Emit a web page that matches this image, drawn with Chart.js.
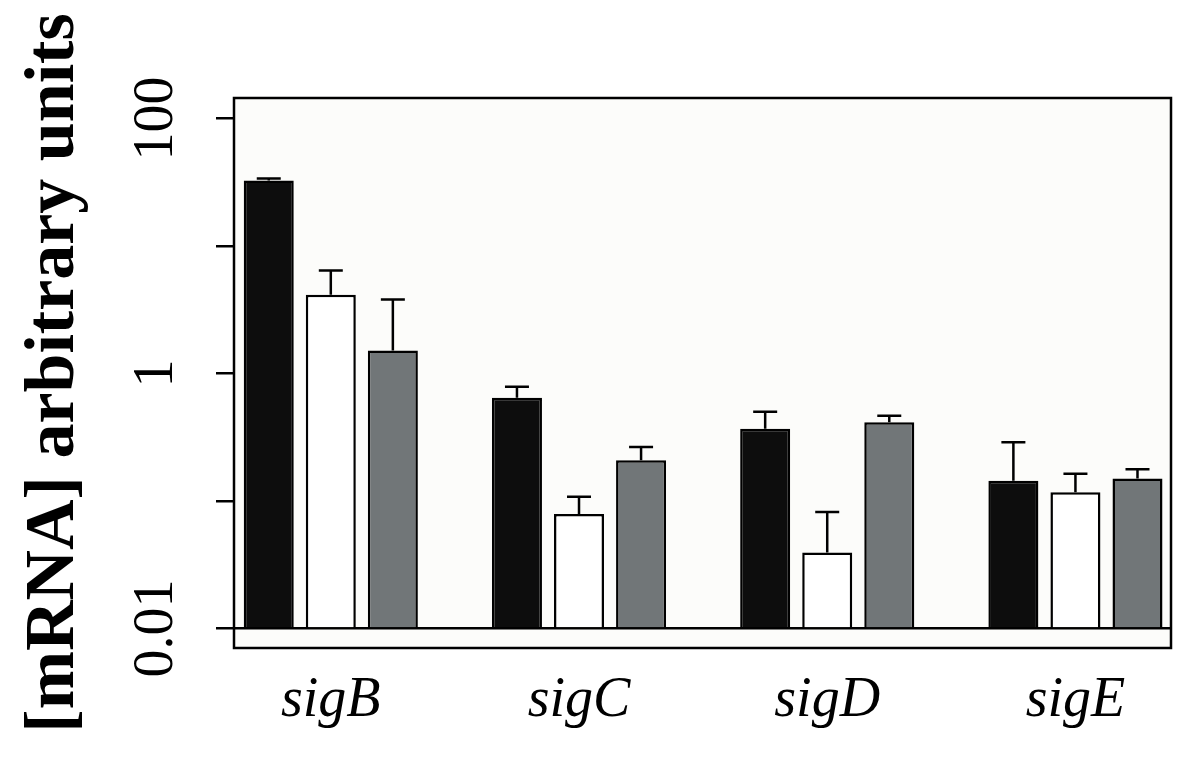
<!DOCTYPE html>
<html>
<head>
<meta charset="utf-8">
<script src="https://cdn.jsdelivr.net/npm/chart.js@4.4.1/dist/chart.umd.min.js"></script>
<style>
  html, body { margin: 0; padding: 0; background: #fff; }
  #wrap { width: 1200px; height: 777px; }
</style>
</head>
<body>
<div id="wrap"><canvas id="myChart" width="1200" height="777"></canvas></div>
<script>
// genes on the x axis
const genes = ['sigB', 'sigC', 'sigD', 'sigE'];
// y ticks (log) and which ones get a label
const yTicks = [0.01, 0.1, 1, 10, 100];
const yTickLabels = ['0.01', '', '1', '', '100'];

// bar heights
const blackValues = [32.6, 0.645, 0.368, 0.144];
const whiteValues = [4.14, 0.0789, 0.0394, 0.117];
const grayValues = [1.51, 0.208, 0.413, 0.150];
// top of the error bars
const blackErr = [33.8, 0.787, 0.501, 0.288];
const whiteErr = [6.42, 0.108, 0.0818, 0.163];
const grayErr = [3.80, 0.265, 0.466, 0.177];

const serif = "'Liberation Serif', 'DejaVu Serif', serif";

function points(values) {
    return values.map((v, i) => ({ x: i, y: v }));
}

// fill plot area, draw frame
const frame = {
    id: 'frame',
    beforeDraw(chart) {
        const a = chart.chartArea;
        const ctx = chart.ctx;
        ctx.save();
        ctx.fillStyle = '#fcfcfa';
        ctx.fillRect(a.left, a.top, a.right - a.left, a.bottom - a.top);
        ctx.restore();
    },
    afterDraw(chart) {
        const a = chart.chartArea;
        const ctx = chart.ctx;
        ctx.save();
        ctx.strokeStyle = '#000';
        ctx.lineWidth = 2.5;
        ctx.strokeRect(a.left, a.top, a.right - a.left, a.bottom - a.top);
        ctx.restore();
    }
};

// one-sided error bars with a cap
const errorBars = {
    id: 'errorBars',
    afterDatasetsDraw(chart) {
        const ctx = chart.ctx;
        const yScale = chart.scales.y;
        ctx.save();
        ctx.strokeStyle = '#000';
        ctx.lineWidth = 2.5;
        chart.data.datasets.forEach((ds, di) => {
            const meta = chart.getDatasetMeta(di);
            meta.data.forEach((bar, i) => {
                const top = yScale.getPixelForValue(ds.errors[i]);
                ctx.beginPath();
                ctx.moveTo(bar.x, bar.y);
                ctx.lineTo(bar.x, top);
                ctx.moveTo(bar.x - 12, top);
                ctx.lineTo(bar.x + 12, top);
                ctx.stroke();
            });
        });
        ctx.restore();
    }
};

const ctx = document.getElementById('myChart').getContext('2d');
const chart = new Chart(ctx, {
    type: 'bar',
    data: {
        datasets: [
            { label: 'black', data: points(blackValues), errors: blackErr, backgroundColor: '#0d0d0d' },
            { label: 'white', data: points(whiteValues), errors: whiteErr, backgroundColor: '#ffffff' },
            { label: 'gray', data: points(grayValues), errors: grayErr, backgroundColor: '#717678' }
        ]
    },
    options: {
        responsive: false,
        animation: false,
        base: 0.01,
        borderColor: '#000',
        borderWidth: 2.5,
        categoryPercentage: 0.75,
        barPercentage: 0.806,
        layout: { padding: { left: 10, right: 29, top: 98, bottom: 0 } },
        plugins: {
            legend: { display: false },
            tooltip: { enabled: false }
        },
        scales: {
            x: {
                type: 'linear',
                offset: false,
                min: -0.39,
                max: 3.385,
                afterBuildTicks: s => { s.ticks = genes.map((g, i) => ({ value: i })); },
                afterFit: s => { s.height = 129; },
                grid: { display: false, drawTicks: false },
                border: { display: false },
                ticks: {
                    padding: 20,
                    color: '#000',
                    font: { family: serif, size: 56, style: 'italic' },
                    callback: v => genes[v]
                }
            },
            y: {
                type: 'logarithmic',
                min: 0.00702,
                max: 144.5,
                afterBuildTicks: s => { s.ticks = yTicks.map(v => ({ value: v })); },
                afterFit: s => { s.width = 224; },
                border: { display: false },
                grid: {
                    drawOnChartArea: true,
                    drawTicks: true,
                    tickLength: 18,
                    lineWidth: 2.5,
                    color: c => (c.tick && c.tick.value === 0.01 ? '#000' : 'rgba(0,0,0,0)'),
                    tickColor: '#000'
                },
                ticks: {
                    minRotation: 90,
                    maxRotation: 90,
                    crossAlign: 'center',
                    padding: 10,
                    color: '#000',
                    font: { family: serif, size: 56 },
                    callback: (v, i) => yTickLabels[yTicks.indexOf(v)]
                },
                title: {
                    display: true,
                    text: '[mRNA] arbitrary units',
                    color: '#000',
                    font: { family: serif, size: 70, weight: 'bold' },
                    padding: { top: 3, bottom: 0 }
                }
            }
        }
    },
    plugins: [frame, errorBars]
});
</script>
</body>
</html>
